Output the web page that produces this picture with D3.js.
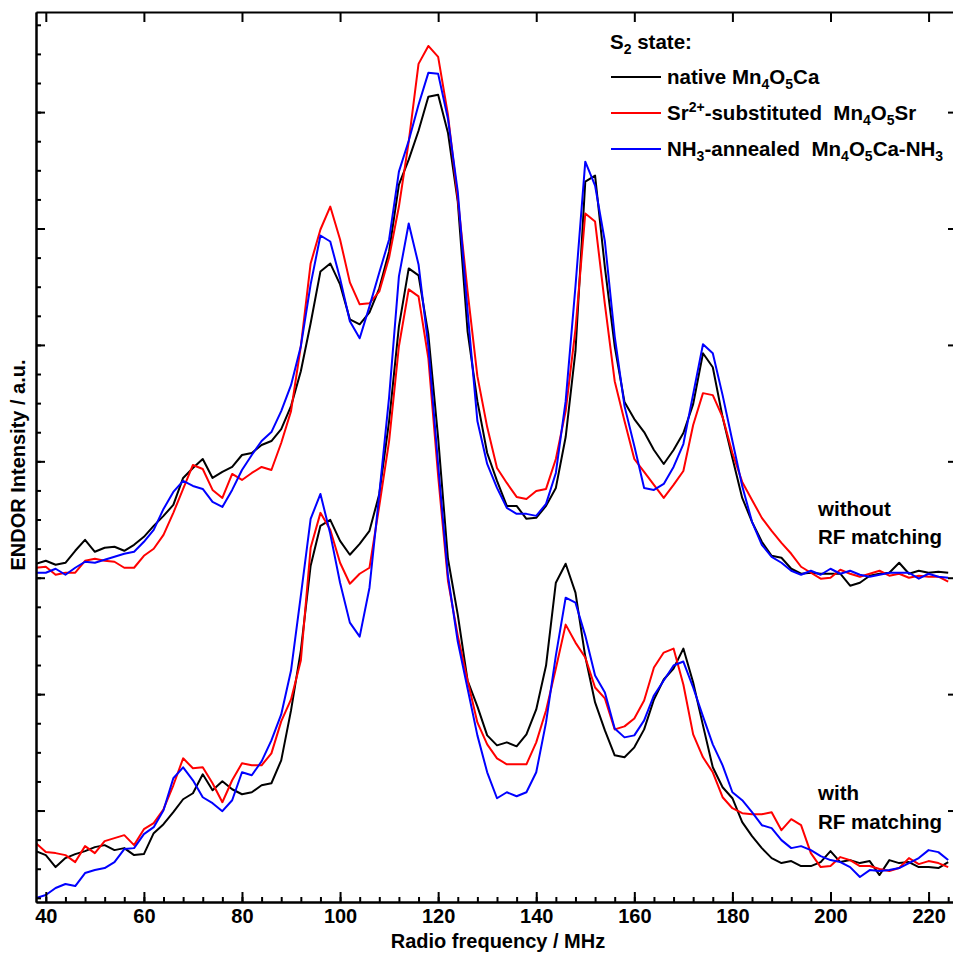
<!DOCTYPE html>
<html><head><meta charset="utf-8">
<script src="https://cdn.jsdelivr.net/npm/d3@7"></script>
<style>
body{margin:0;background:#fff}
svg{display:block}
text{font-family:"Liberation Sans",Arial,Helvetica,sans-serif;font-weight:bold;fill:#000}
</style>
</head><body>
<svg id="c" width="953" height="958"></svg>
<script>
// Frequency grid (MHz)
const freq = d3.range(38, 225, 2);
const xTicksMajor = [40, 60, 80, 100, 120, 140, 160, 180, 200, 220];
const xTicksMinor = d3.range(40, 226, 4);

// ENDOR intensity (a.u.) — upper traces: without RF matching
const upperNative = [364,367,363,365,377,388,376,380,381,377,383,391,402,412,423,450,460,469,450,456,461,473,475,483,487,499,522,557,605,657,665,644,609,604,616,640,677,744,769,798,832,834,796,727,597,527,475,447,422,422,409,410,422,440,491,577,747,753,661,582,526,509,496,478,464,478,495,524,575,561,511,470,430,406,386,372,370,359,354,355,354,354,354,342,345,352,354,355,365,354,357,355,356,355];
const upperSr = [360,361,353,355,355,367,369,367,366,360,360,372,379,393,415,439,463,459,438,430,454,448,455,461,458,485,517,582,665,699,722,689,646,624,625,637,671,722,787,865,883,872,814,730,637,552,501,460,445,431,429,437,439,469,517,599,715,707,624,547,507,469,456,443,430,443,457,503,535,533,511,475,446,428,410,397,385,374,361,355,349,350,358,354,351,354,357,352,354,350,352,351,351,346];
const upperNH3 = [355,355,359,353,360,366,365,368,371,374,376,386,398,419,436,447,442,439,426,421,438,458,473,487,496,517,543,582,644,693,687,650,607,590,622,656,689,757,788,824,856,855,810,737,617,507,464,440,420,414,414,412,424,455,527,642,767,743,687,592,522,482,440,438,444,461,484,534,584,575,533,487,442,406,383,371,365,357,353,357,353,359,354,357,353,351,353,355,355,355,349,354,351,350];

// lower traces: with RF matching
const lowerNative = [76,72,60,69,73,76,80,82,77,79,72,73,94,103,115,128,134,153,137,146,138,133,135,142,144,167,217,277,362,402,408,387,373,384,397,434,507,602,660,653,594,490,369,313,247,221,192,182,185,181,193,218,262,345,364,335,271,225,197,172,170,180,198,228,248,259,279,245,202,160,140,129,105,91,79,69,64,66,61,61,65,76,65,67,64,66,52,67,64,65,60,60,59,65];
const lowerSr = [84,75,74,72,65,81,74,86,89,92,82,98,104,118,142,169,159,160,144,125,147,164,162,162,174,206,228,267,380,415,398,365,344,354,360,422,487,582,639,632,570,452,347,292,247,205,183,169,163,163,163,185,217,259,303,285,270,240,229,198,201,209,227,260,275,279,243,193,170,155,130,119,114,113,113,115,97,108,102,74,60,61,70,67,61,61,58,56,59,69,63,66,64,60];
const lowerNH3 = [29,32,39,43,41,54,57,59,65,78,79,93,100,117,149,160,147,130,124,116,127,155,152,166,187,213,257,332,409,434,394,345,305,291,340,434,531,652,705,664,582,463,352,286,239,192,155,129,135,131,135,155,205,272,330,325,292,252,235,199,190,192,207,232,247,262,266,240,211,183,162,135,127,115,102,99,87,79,81,77,71,67,65,60,50,57,56,57,59,64,69,77,75,67];

const seriesNames = ["native", "Sr", "NH3"];
const seriesColors = ["#000000", "#ff0000", "#0000ff"];
const yStep = 350 / 3;

const svg = d3.select("#c");
const L = 36, R = 958, T = 12, B = 902;
const x = d3.scaleLinear().domain([38, 226]).range([L, R]);
const y = d3.scaleLinear().domain([25, 917]).range([B, T]);

const yMajor = d3.range(1, 8).map(k => k * yStep);
const yMinor = d3.range(1, 32).map(k => k * yStep / 4);

svg.append("defs").append("clipPath").attr("id", "clip")
  .append("rect").attr("x", L).attr("y", T).attr("width", R - L).attr("height", B - T);

// spectra
const line = d3.line().x(d => x(d[0])).y(d => y(d[1]));
const plot = svg.append("g").attr("clip-path", "url(#clip)");
const groups = [[upperNative, upperSr, upperNH3], [lowerNative, lowerSr, lowerNH3]];
groups.forEach(grp => {
  grp.forEach((vals, i) => {
    plot.append("path")
      .datum(freq.map((f, j) => [f, vals[j]]))
      .attr("fill", "none")
      .attr("stroke", seriesColors[i])
      .attr("stroke-width", 2)
      .attr("stroke-linejoin", "round")
      .attr("d", line);
  });
});

// axes
function styleAxis(g) {
  g.selectAll("path,line").attr("stroke", "#000").attr("stroke-width", 2);
}
svg.append("g").attr("transform", `translate(0,${B})`)
  .call(d3.axisBottom(x).tickValues(xTicksMinor).tickSize(-5).tickSizeOuter(0).tickFormat(""))
  .call(styleAxis);
const bx = svg.append("g").attr("transform", `translate(0,${B})`)
  .call(d3.axisBottom(x).tickValues(xTicksMajor).tickSize(-10).tickSizeOuter(0).tickPadding(7).tickFormat(d3.format("d")))
  .call(styleAxis);
bx.selectAll("text").style("font-size", "20px").style("font-family", '"Liberation Sans",Arial,sans-serif').style("font-weight", "bold");

svg.append("g").attr("transform", `translate(0,${T})`)
  .call(d3.axisTop(x).tickValues(xTicksMajor).tickSize(-10).tickSizeOuter(0).tickFormat(""))
  .call(styleAxis);

svg.append("g").attr("transform", `translate(${L},0)`)
  .call(d3.axisLeft(y).tickValues(yMinor).tickSize(-5).tickSizeOuter(0).tickFormat(""))
  .call(styleAxis);
svg.append("g").attr("transform", `translate(${L},0)`)
  .call(d3.axisLeft(y).tickValues(yMajor).tickSize(-9).tickSizeOuter(0).tickFormat(""))
  .call(styleAxis);
svg.append("g").attr("transform", `translate(${R},0)`)
  .call(d3.axisRight(y).tickValues(yMajor).tickSize(-10).tickSizeOuter(0).tickFormat(""))
  .call(styleAxis);

// axis titles
svg.append("text").attr("x", (L + R) / 2 + 1).attr("y", 948).attr("text-anchor", "middle")
  .style("font-size", "20px").text("Radio frequency / MHz");
svg.append("text").attr("transform", "translate(25,465) rotate(-90)").attr("text-anchor", "middle")
  .style("font-size", "20px").text("ENDOR Intensity / a.u.");

// rich text helper
function rich(x0, y0, segs) {
  const t = svg.append("text").attr("x", x0).attr("y", y0).style("font-size", "20.5px").style("white-space", "pre");
  let cur = 0;
  segs.forEach(([s, kind]) => {
    const off = kind === "sub" ? 5 : kind === "sup" ? -8 : 0;
    t.append("tspan").attr("dy", off - cur).style("font-size", kind ? "14px" : "20.5px").text(s);
    cur = off;
  });
}

// legend
rich(610, 49, [["S"], ["2", "sub"], [" state:"]]);
const legendLabels = [
  [["native Mn"], ["4", "sub"], ["O"], ["5", "sub"], ["Ca"]],
  [["Sr"], ["2+", "sup"], ["-substituted  Mn"], ["4", "sub"], ["O"], ["5", "sub"], ["Sr"]],
  [["NH"], ["3", "sub"], ["-annealed  Mn"], ["4", "sub"], ["O"], ["5", "sub"], ["Ca-NH"], ["3", "sub"]]
];
const legendY = [77, 113, 149];
seriesNames.forEach((n, i) => {
  svg.append("line").attr("x1", 611).attr("x2", 661).attr("y1", legendY[i]).attr("y2", legendY[i])
    .attr("stroke", seriesColors[i]).attr("stroke-width", 2);
  rich(667, legendY[i] + 7, legendLabels[i]);
});

// group annotations
const notes = [["without", 818, 516], ["RF matching", 818, 544], ["with", 818, 800], ["RF matching", 818, 829]];
notes.forEach(([s, nx, ny]) => {
  svg.append("text").attr("x", nx).attr("y", ny).style("font-size", "20.5px").text(s);
});
</script>
</body></html>
